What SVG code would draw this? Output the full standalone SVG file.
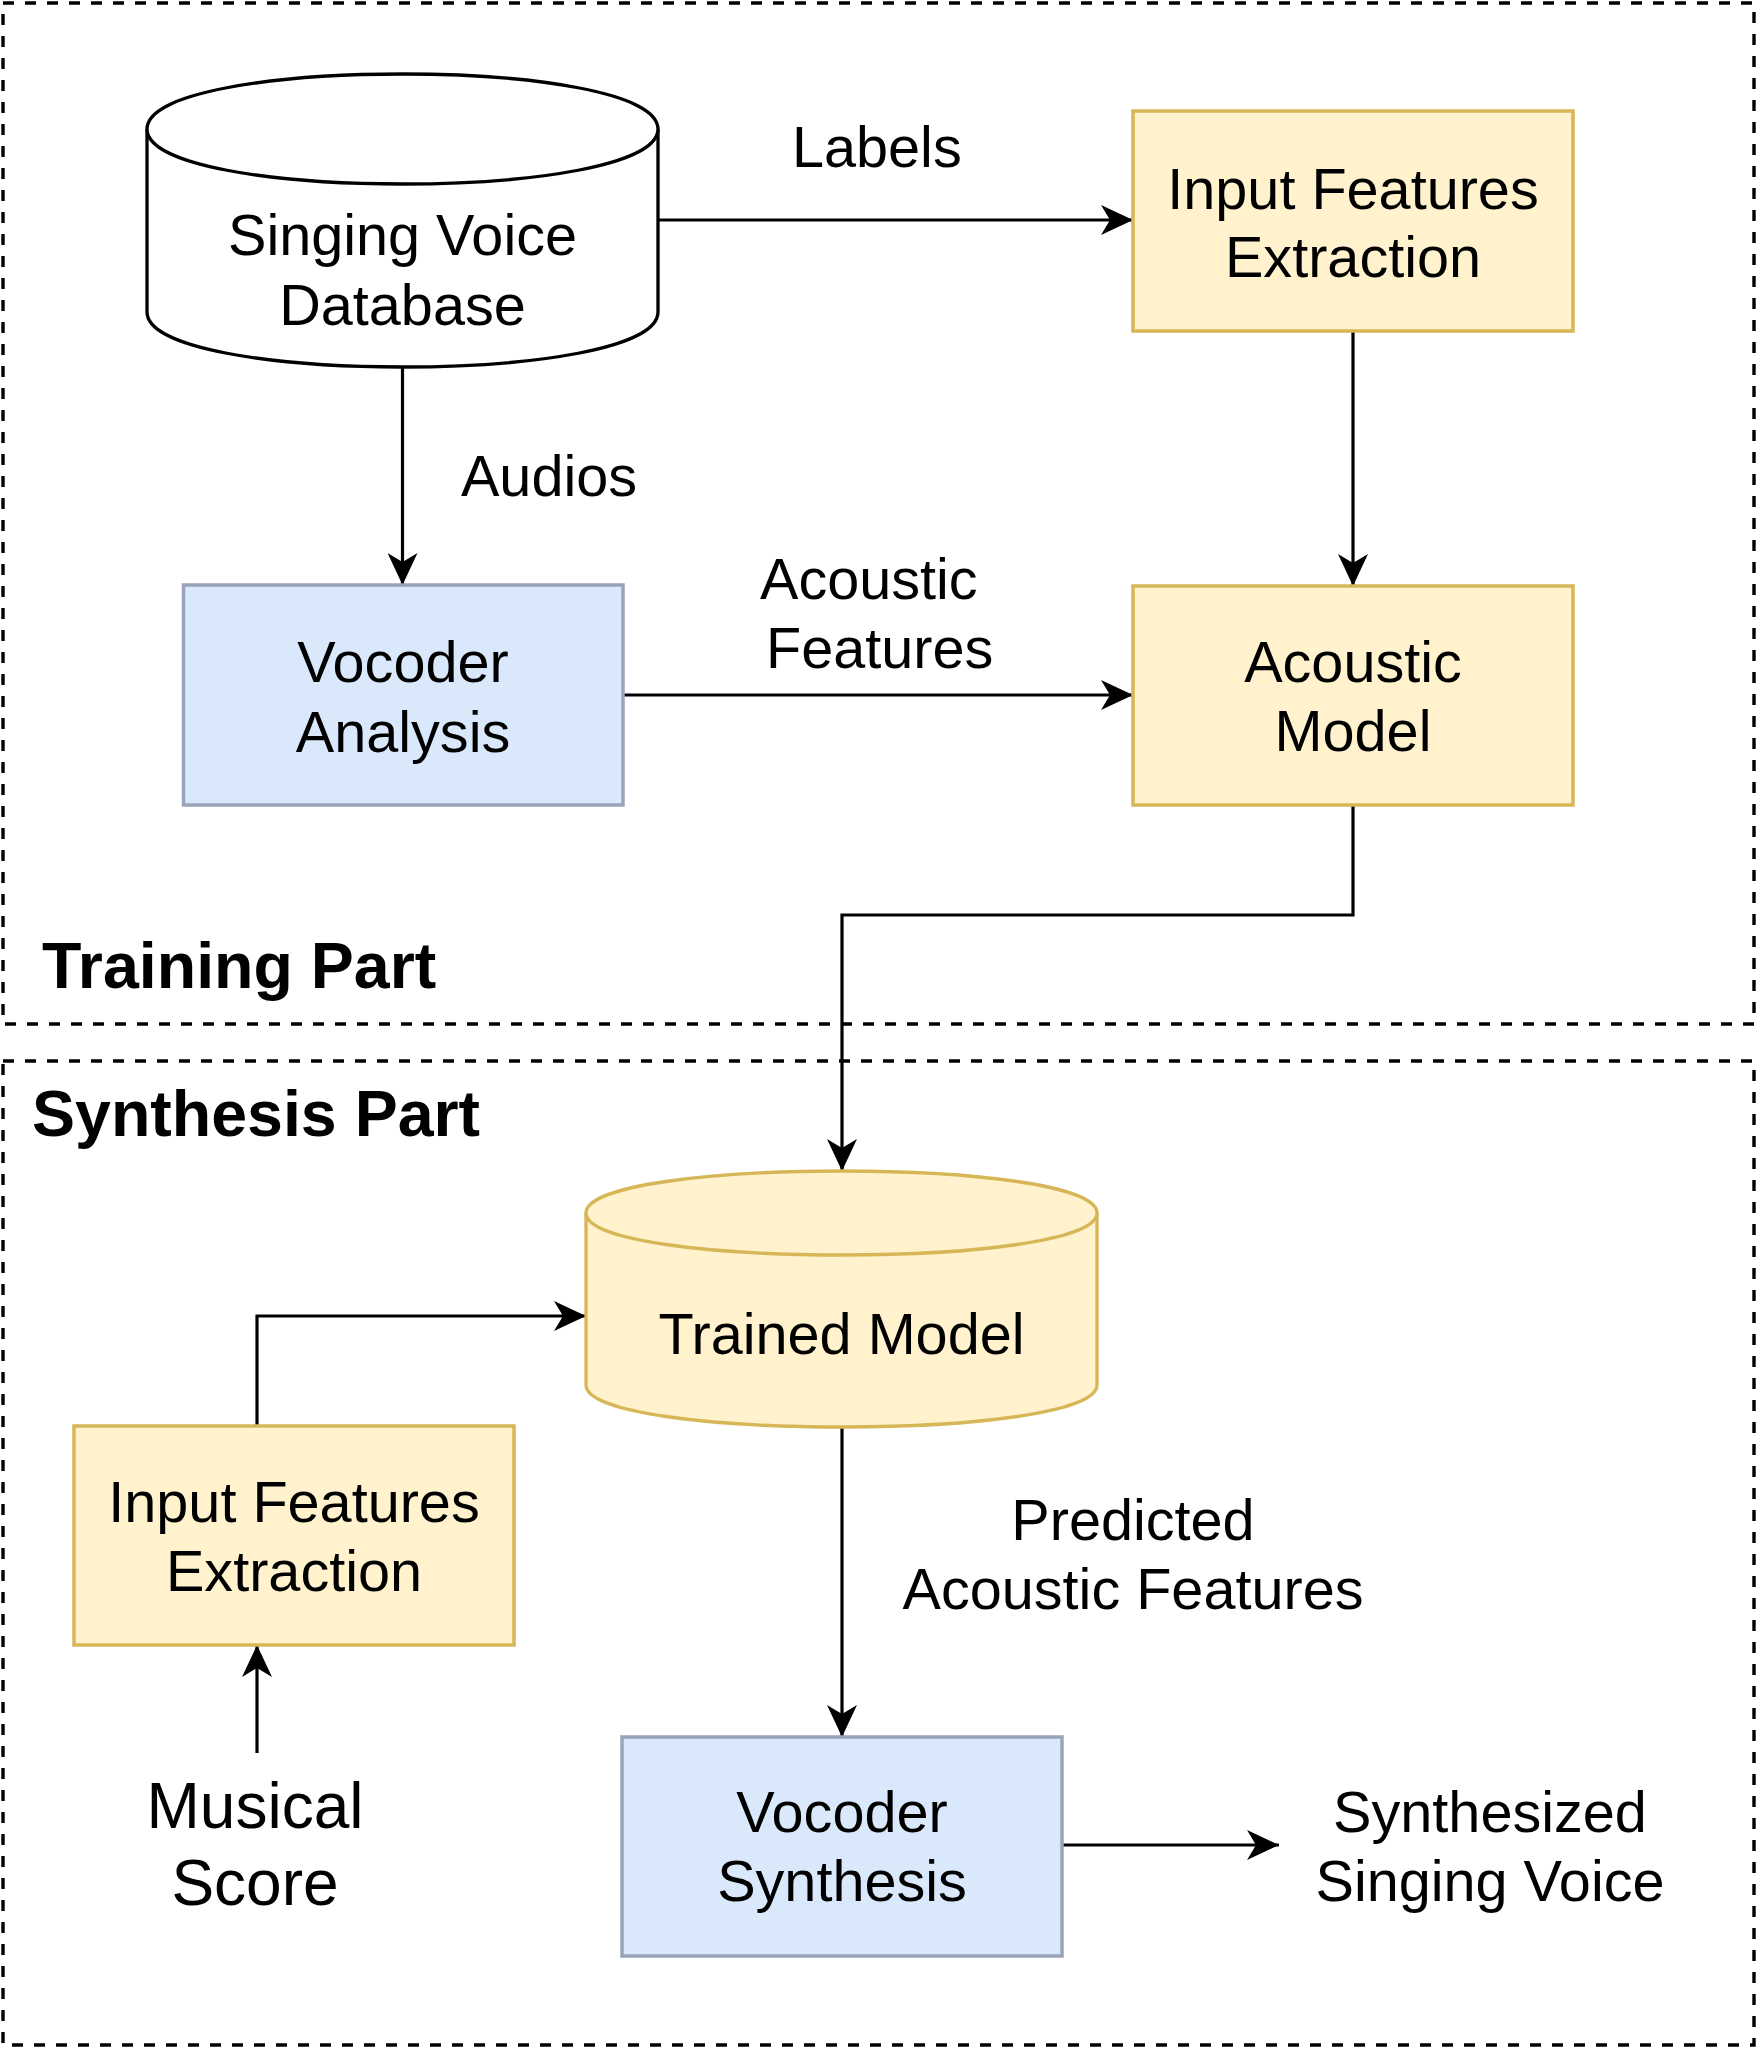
<svg xmlns="http://www.w3.org/2000/svg" width="1760" height="2048" viewBox="0 0 1760 2048">
<style>
.t{font-family:"Liberation Sans",Arial,sans-serif;font-size:57.6px;fill:#000;text-anchor:middle}
.s{text-anchor:start}
.b{font-weight:bold;font-size:64.5px;text-anchor:start}
.big{font-size:64px}
.grp{fill:none;stroke:#000;stroke-width:3.4;stroke-dasharray:11 11}
.y{fill:#fff2cc;stroke:#d6b656;stroke-width:3.5}
.bl{fill:#dae8fc;stroke:#98a4b8;stroke-width:3.5}
.db{fill:#fff;stroke:#000;stroke-width:3.3}
.dby{fill:#fff2cc;stroke:#d6b656;stroke-width:3.3}
.e{fill:none;stroke:#000;stroke-width:3.2;marker-end:url(#ah)}
</style>
<defs>
<marker id="ah" markerUnits="userSpaceOnUse" viewBox="0 0 32 30" refX="32" refY="15" markerWidth="32" markerHeight="30" orient="auto">
<path d="M0,0 L32,15 L0,30 L9,15 Z" fill="#000"/>
</marker>
</defs>
<rect width="1760" height="2048" fill="#fff"/>

<g id="training-part">
<rect class="grp" x="3" y="3" width="1751" height="1021"/>
<text class="t b" x="42" y="988">Training Part</text>
</g>
<g id="synthesis-part">
<rect class="grp" x="3" y="1061" width="1751" height="984"/>
<text class="t b" x="32" y="1136">Synthesis Part</text>
</g>

<g id="connectors">
<path class="e" d="M658,220 L1133,220"/>
<path class="e" d="M402.5,367 L402.5,585"/>
<path class="e" d="M1353,331 L1353,586"/>
<path class="e" d="M623,695 L1133,695"/>
<path class="e" d="M1353,805 L1353,915 L842,915 L842,1171"/>
<path class="e" d="M257,1426 L257,1316 L586,1316"/>
<path class="e" d="M257,1753 L257,1645"/>
<path class="e" d="M842,1427 L842,1737"/>
<path class="e" d="M1062,1845 L1279,1845"/>
<text class="t s" x="792" y="167">Labels</text>
<text class="t" x="549" y="496">Audios</text>
<text class="t s" x="760" y="599">Acoustic</text>
<text class="t s" x="766" y="668">Features</text>
<text class="t" x="1133" y="1540">Predicted</text>
<text class="t" x="1133" y="1609">Acoustic Features</text>
</g>

<g id="singing-voice-database">
<path class="db" d="M147,129 C147,55.67 658,55.67 658,129 L658,312 C658,385.33 147,385.33 147,312 Z"/>
<path class="db" fill="none" d="M147,129 C147,202.33 658,202.33 658,129"/>
<text class="t" x="402.5" y="254.5">Singing Voice</text>
<text class="t" x="402.5" y="324.5">Database</text>
</g>

<g id="input-features-extraction-1">
<rect class="y" x="1133" y="111" width="440" height="220"/>
<text class="t" x="1353" y="209">Input Features</text>
<text class="t" x="1353" y="277">Extraction</text>
</g>

<g id="vocoder-analysis">
<rect class="bl" x="183.5" y="585" width="439.5" height="220"/>
<text class="t" x="403" y="682">Vocoder</text>
<text class="t" x="403" y="751.5">Analysis</text>
</g>

<g id="acoustic-model">
<rect class="y" x="1133" y="586" width="440" height="219"/>
<text class="t" x="1353" y="682">Acoustic</text>
<text class="t" x="1353" y="751">Model</text>
</g>

<g id="trained-model">
<path class="dby" d="M586,1213 C586,1157 1097,1157 1097,1213 L1097,1385 C1097,1441 586,1441 586,1385 Z"/>
<path class="dby" fill="none" d="M586,1213 C586,1269 1097,1269 1097,1213"/>
<text class="t" x="841.5" y="1354">Trained Model</text>
</g>

<g id="input-features-extraction-2">
<rect class="y" x="74" y="1426" width="440" height="219"/>
<text class="t" x="294" y="1522">Input Features</text>
<text class="t" x="294" y="1591">Extraction</text>
</g>

<g id="musical-score">
<text class="t big" x="255" y="1828">Musical</text>
<text class="t big" x="255" y="1905">Score</text>
</g>

<g id="vocoder-synthesis">
<rect class="bl" x="622" y="1737" width="440" height="219"/>
<text class="t" x="842" y="1832">Vocoder</text>
<text class="t" x="842" y="1901">Synthesis</text>
</g>

<g id="synthesized-singing-voice">
<text class="t" x="1490" y="1832">Synthesized</text>
<text class="t" x="1490" y="1901">Singing Voice</text>
</g>
</svg>
